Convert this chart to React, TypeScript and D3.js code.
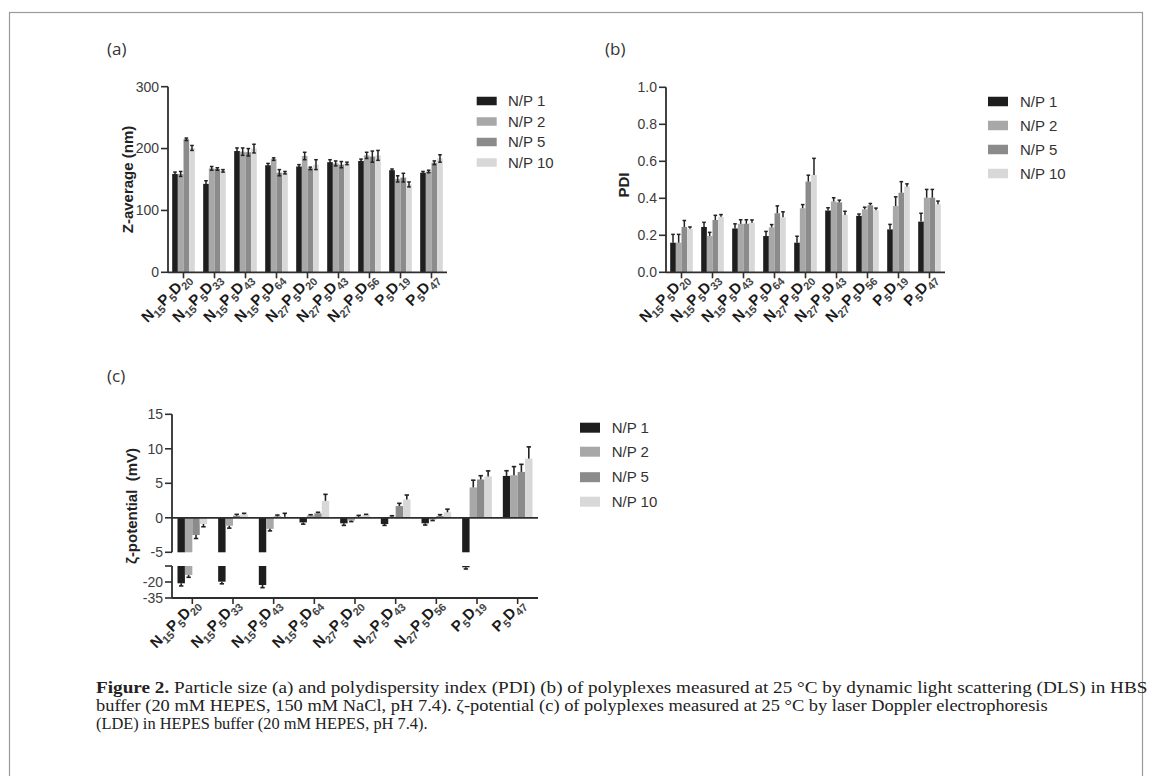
import React, { useLayoutEffect, useRef, useState } from 'react';
import * as d3 from 'd3';

// ---------- data ----------
const categories = ['N15P5D20', 'N15P5D33', 'N15P5D43', 'N15P5D64', 'N27P5D20', 'N27P5D43', 'N27P5D56', 'P5D19', 'P5D47'];
// even index = normal text, odd index = subscript
const labelParts = [
  ['N', '15', 'P', '5', 'D', '20'],
  ['N', '15', 'P', '5', 'D', '33'],
  ['N', '15', 'P', '5', 'D', '43'],
  ['N', '15', 'P', '5', 'D', '64'],
  ['N', '27', 'P', '5', 'D', '20'],
  ['N', '27', 'P', '5', 'D', '43'],
  ['N', '27', 'P', '5', 'D', '56'],
  ['P', '5', 'D', '19'],
  ['P', '5', 'D', '47'],
];
const seriesNames = ['N/P 1', 'N/P 2', 'N/P 5', 'N/P 10'];
const seriesColors = ['#1e1e1e', '#a8a8a8', '#8b8b8b', '#d8d8d8'];

// (a) Z-average (nm)
const zNP1 = [159, 143, 196, 173, 171, 178, 180, 165, 161];
const zNP2 = [159, 168, 195, 183, 188, 176, 189, 151, 163];
const zNP5 = [215, 167, 194, 161, 168, 174, 187, 153, 177];
const zNP10 = [201, 164, 200, 161, 174, 176, 189, 142, 184];
const zErrNP1 = [3, 5, 5, 3, 3, 4, 3, 2, 2];
const zErrNP2 = [4, 3, 6, 2, 6, 4, 5, 5, 2];
const zErrNP5 = [2, 2, 6, 5, 2, 5, 9, 7, 3];
const zErrNP10 = [4, 2, 7, 2, 8, 2, 8, 4, 6];
const zTicks = [0, 100, 200, 300];

// (b) PDI
const pdiNP1 = [0.16, 0.245, 0.237, 0.196, 0.16, 0.334, 0.305, 0.232, 0.274];
const pdiNP2 = [0.16, 0.196, 0.262, 0.243, 0.346, 0.383, 0.34, 0.358, 0.403];
const pdiNP5 = [0.245, 0.283, 0.262, 0.319, 0.49, 0.378, 0.362, 0.43, 0.403];
const pdiNP10 = [0.235, 0.3, 0.268, 0.297, 0.526, 0.31, 0.335, 0.463, 0.368];
const pdiErrNP1 = [0.045, 0.025, 0.025, 0.025, 0.035, 0.015, 0.01, 0.027, 0.045];
const pdiErrNP2 = [0.045, 0.02, 0.022, 0.015, 0.02, 0.02, 0.012, 0.05, 0.045];
const pdiErrNP5 = [0.035, 0.025, 0.022, 0.04, 0.035, 0.012, 0.01, 0.06, 0.045];
const pdiErrNP10 = [0.01, 0.012, 0.015, 0.03, 0.09, 0.02, 0.012, 0.015, 0.017];
const pdiTicks = [0, 0.2, 0.4, 0.6, 0.8, 1.0];

// (c) zeta potential (mV)
const zetaNP1 = [-21.2, -19.7, -22.8, -0.67, -0.8, -0.9, -0.8, -6.2, 6.07];
const zetaNP2 = [-13.4, -1.15, -1.6, 0.35, -0.4, 0.15, -0.25, 4.4, 6.17];
const zetaNP5 = [-2.5, 0.3, 0.2, 0.65, 0.15, 1.7, 0.25, 5.55, 6.65];
const zetaNP10 = [-0.9, 0.5, 0.15, 2.45, 0.4, 2.65, 0.8, 6.0, 8.58];
const zetaErrNP1 = [2.5, 2, 2.5, 0.25, 0.3, 0.2, 0.25, 1.6, 0.75];
const zetaErrNP2 = [2.2, 0.35, 0.3, 0.1, 0.15, 0.15, 0.15, 1.05, 1.25];
const zetaErrNP5 = [0.5, 0.2, 0.2, 0.15, 0.2, 0.4, 0.2, 0.55, 1.1];
const zetaErrNP10 = [0.4, 0.15, 0.5, 0.95, 0.1, 0.65, 0.45, 0.8, 1.7];
const zetaUpperTicks = [-5, 0, 5, 10, 15];
const zetaLowerTicks = [-20, -35];

const captionLines = [
  ['Figure 2.', ' Particle size (a) and polydispersity index (PDI) (b) of polyplexes measured at 25 °C by dynamic light scattering (DLS) in HBS'],
  ['', 'buffer (20 mM HEPES, 150 mM NaCl, pH 7.4). ζ-potential (c) of polyplexes measured at 25 °C by laser Doppler electrophoresis'],
  ['', '(LDE) in HEPES buffer (20 mM HEPES, pH 7.4).'],
];
const captionWidths = [1052, 952, 332];

// ---------- styling ----------
const SANS = '"Liberation Sans", Arial, sans-serif';
const AXIS = '#2e2e2e';
const TICKTXT = '#3c3c3c';
const ERR = '#222';
const GROUP_FRAC = 0.73;

function groupGeom(x: d3.ScaleBand<string>, cat: string, j: number) {
  const step = x.step();
  const gw = step * GROUP_FRAC;
  const bw = gw / 4;
  const cx = (x(cat) as number) + step / 2;
  return { left: cx - gw / 2 + j * bw, bw, cx };
}

function XLabels({ x, axisY, fs = 15 }: { x: d3.ScaleBand<string>; axisY: number; fs?: number }) {
  return (
    <g>
      {categories.map((c, i) => {
        const cx = (x(c) as number) + x.step() / 2;
        const parts = labelParts[i];
        return (
          <text key={c} transform={`translate(${cx + 8},${axisY + 7}) rotate(-45)`} textAnchor="end"
            fontFamily={SANS} fontWeight="bold" fontSize={fs} fill="#1a1a1a">
            {parts.map((p, k) => {
              const sub = k % 2 === 1;
              const dy = k === 0 ? 0 : sub ? 4 : -4;
              return (
                <tspan key={k} dy={dy} fontSize={sub ? 11 : fs} fill={sub ? '#444' : '#1a1a1a'}>{p}</tspan>
              );
            })}
          </text>
        );
      })}
    </g>
  );
}

function XTicks({ x, axisY }: { x: d3.ScaleBand<string>; axisY: number }) {
  return (
    <g>
      {categories.map((c) => {
        const cx = (x(c) as number) + x.step() / 2;
        return <line key={c} x1={cx} x2={cx} y1={axisY} y2={axisY + 6} stroke={AXIS} strokeWidth={1.6} />;
      })}
    </g>
  );
}

function YAxis({ y, ticks, x0, fmt, domainTop, domainBottom }: any) {
  return (
    <g>
      <line x1={x0} x2={x0} y1={y(domainTop)} y2={y(domainBottom)} stroke={AXIS} strokeWidth={1.8} />
      {ticks.map((t: number) => (
        <g key={t}>
          <line x1={x0 - 7} x2={x0} y1={y(t)} y2={y(t)} stroke={AXIS} strokeWidth={1.6} />
          <text x={x0 - 9} y={y(t)} dy="0.35em" textAnchor="end" fontFamily={SANS} fontSize={14} fill={TICKTXT}>
            {fmt(t)}
          </text>
        </g>
      ))}
    </g>
  );
}

function Legend({ x, ys, h, tx }: { x: number; ys: number[]; h: number; tx: number }) {
  return (
    <g>
      {seriesNames.map((n, j) => (
        <g key={n}>
          <rect x={x} y={ys[j] - h / 2} width={20} height={h} fill={seriesColors[j]} />
          <text x={tx} y={ys[j]} dy="0.35em" fontFamily={SANS} fontSize={15} fill="#333">{n}</text>
        </g>
      ))}
    </g>
  );
}

function SimpleBars({ x, y, series, errs, both }: any) {
  const out: any[] = [];
  categories.forEach((c, i) => {
    series.forEach((s: number[], j: number) => {
      const v = s[i];
      const e = errs[j][i];
      const g = groupGeom(x, c, j);
      const bx = g.left + g.bw / 2;
      out.push(<rect key={`r${i}-${j}`} x={g.left} y={y(v)} width={g.bw} height={y(0) - y(v)} fill={seriesColors[j]} />);
      const yTop = y(v + e);
      const yBot = both ? y(v - e) : y(v);
      out.push(
        <g key={`e${i}-${j}`} stroke={ERR} strokeWidth={1.5}>
          <line x1={bx} x2={bx} y1={yTop} y2={yBot} />
          <line x1={bx - 1.8} x2={bx + 1.8} y1={yTop} y2={yTop} />
          {both && <line x1={bx - 1.8} x2={bx + 1.8} y1={yBot} y2={yBot} />}
        </g>
      );
    });
  });
  return <g>{out}</g>;
}

function PanelA() {
  const x = d3.scaleBand<string>().domain(categories).range([168, 447]);
  const y = d3.scaleLinear().domain([0, 300]).range([272.3, 86.7]);
  const series = [zNP1, zNP2, zNP5, zNP10];
  const errs = [zErrNP1, zErrNP2, zErrNP5, zErrNP10];
  return (
    <g>
      <text x={107} y={55} fontFamily='"Open Sans", sans-serif' fontSize={17} fill="#333">(a)</text>
      <SimpleBars x={x} y={y} series={series} errs={errs} both={true} />
      <line x1={168} x2={447} y1={y(0)} y2={y(0)} stroke={AXIS} strokeWidth={1.8} />
      <XTicks x={x} axisY={y(0)} />
      <YAxis y={y} ticks={zTicks} x0={168} fmt={(t: number) => String(t)} domainTop={300} domainBottom={0} />
      <text transform={`translate(133,${(y(0) + y(300)) / 2}) rotate(-90)`} textAnchor="middle" fontFamily={SANS}
        fontWeight="bold" fontSize={15} fill="#222">Z-average (nm)</text>
      <XLabels x={x} axisY={y(0)} />
      <Legend x={476.7} ys={[101, 121.5, 142, 162.5]} h={8.5} tx={508} />
    </g>
  );
}

function PanelB() {
  const x = d3.scaleBand<string>().domain(categories).range([666, 945]);
  const y = d3.scaleLinear().domain([0, 1]).range([272.3, 87.3]);
  const series = [pdiNP1, pdiNP2, pdiNP5, pdiNP10];
  const errs = [pdiErrNP1, pdiErrNP2, pdiErrNP5, pdiErrNP10];
  const fmt = d3.format('.1f');
  return (
    <g>
      <text x={605} y={55} fontFamily='"Open Sans", sans-serif' fontSize={17} fill="#333">(b)</text>
      <SimpleBars x={x} y={y} series={series} errs={errs} both={false} />
      <line x1={666} x2={945} y1={y(0)} y2={y(0)} stroke={AXIS} strokeWidth={1.8} />
      <XTicks x={x} axisY={y(0)} />
      <YAxis y={y} ticks={pdiTicks} x0={666} fmt={fmt} domainTop={1} domainBottom={0} />
      <text transform={`translate(629,185) rotate(-90)`} textAnchor="middle" fontFamily={SANS}
        fontWeight="bold" fontSize={15} fill="#222">PDI</text>
      <XLabels x={x} axisY={y(0)} />
      <Legend x={988} ys={[101.5, 125.5, 149.5, 173.5]} h={9.5} tx={1020} />
    </g>
  );
}

function PanelC() {
  const x0 = 172, x1 = 538;
  const x = d3.scaleBand<string>().domain(categories).range([x0, x1]);
  const yU = d3.scaleLinear().domain([-5, 15]).range([552.3, 414.3]);
  const yL = d3.scaleLinear().domain([-35, -5]).range([598, 566]);
  const series = [zetaNP1, zetaNP2, zetaNP5, zetaNP10];
  const errs = [zetaErrNP1, zetaErrNP2, zetaErrNP5, zetaErrNP10];
  const marks: any[] = [];
  categories.forEach((c, i) => {
    series.forEach((s, j) => {
      const v = s[i];
      const e = errs[j][i];
      const g = groupGeom(x, c, j);
      const bx = g.left + g.bw / 2;
      const col = seriesColors[j];
      if (v >= 0) {
        marks.push(<rect key={`r${i}${j}`} x={g.left} y={yU(v)} width={g.bw} height={yU(0) - yU(v)} fill={col} />);
      } else if (v >= -5) {
        marks.push(<rect key={`r${i}${j}`} x={g.left} y={yU(0)} width={g.bw} height={yU(v) - yU(0)} fill={col} />);
      } else {
        marks.push(<rect key={`r${i}${j}`} x={g.left} y={yU(0)} width={g.bw} height={yU(-5) - yU(0)} fill={col} />);
        marks.push(<rect key={`l${i}${j}`} x={g.left} y={yL(-5)} width={g.bw} height={yL(v) - yL(-5)} fill={col} />);
      }
      const end = v >= 0 ? v + e : v - e;
      let ya: number, yb: number;
      if (end >= -5) { ya = yU(Math.max(v, -5)); yb = yU(end); }
      else { ya = yL(Math.min(v, -5)); yb = yL(end); }
      marks.push(
        <g key={`e${i}${j}`} stroke={ERR} strokeWidth={1.6}>
          <line x1={bx} x2={bx} y1={ya} y2={yb} />
          <line x1={bx - 2.2} x2={bx + 2.2} y1={yb} y2={yb} />
        </g>
      );
    });
  });
  return (
    <g>
      <text x={107} y={382} fontFamily='"Open Sans", sans-serif' fontSize={17} fill="#333">(c)</text>
      {marks}
      <line x1={x0} x2={x1} y1={yU(0)} y2={yU(0)} stroke={AXIS} strokeWidth={1.8} />
      <line x1={x0} x2={x1} y1={yL(-35)} y2={yL(-35)} stroke={AXIS} strokeWidth={1.8} />
      <XTicks x={x} axisY={yL(-35)} />
      <YAxis y={yU} ticks={zetaUpperTicks} x0={x0} fmt={(t: number) => String(t)} domainTop={15} domainBottom={-5} />
      <YAxis y={yL} ticks={zetaLowerTicks} x0={x0} fmt={(t: number) => String(t)} domainTop={-5} domainBottom={-35} />
      <line x1={x0 - 7} x2={x0} y1={yL(-5)} y2={yL(-5)} stroke={AXIS} strokeWidth={1.6} />
      <text transform={`translate(137,506) rotate(-90)`} textAnchor="middle" fontFamily={SANS}
        fontWeight="bold" fontSize={15} fill="#222" style={{ whiteSpace: 'pre' }}>ζ-potential  (mV)</text>
      <XLabels x={x} axisY={yL(-35)} />
      <Legend x={580} ys={[427.7, 451.7, 477.2, 501.7]} h={10} tx={611.7} />
    </g>
  );
}

function Caption() {
  const ys = [693, 711, 729];
  const refs = [useRef<SVGTextElement>(null), useRef<SVGTextElement>(null), useRef<SVGTextElement>(null)];
  const [sx, setSx] = useState<number[]>([1, 1, 1]);
  useLayoutEffect(() => {
    const next = refs.map((r, i) => {
      const w = r.current ? r.current.getComputedTextLength() : 0;
      return w > 0 ? captionWidths[i] / w : 1;
    });
    setSx(next);
  }, []);
  return (
    <g>
      {captionLines.map((ln, i) => (
        <text key={i} ref={refs[i]} transform={`translate(96,${ys[i]}) scale(${sx[i]},1)`}
          fontFamily='"Liberation Serif", "DejaVu Serif", serif' fontSize={17} fill="#222" style={{ whiteSpace: 'pre' }}>
          {ln[0] && <tspan fontWeight="bold">{ln[0]}</tspan>}
          <tspan>{ln[1]}</tspan>
        </text>
      ))}
    </g>
  );
}

export default function App() {
  return (
    <svg width={1153} height={776} style={{ position: 'absolute', left: 0, top: 0, display: 'block', background: '#fff' }}>
      <rect x={9.5} y={12.5} width={1133} height={800} fill="none" stroke="#9a9a9a" strokeWidth={1.2} />
      <PanelA />
      <PanelB />
      <PanelC />
      <Caption />
    </svg>
  );
}
